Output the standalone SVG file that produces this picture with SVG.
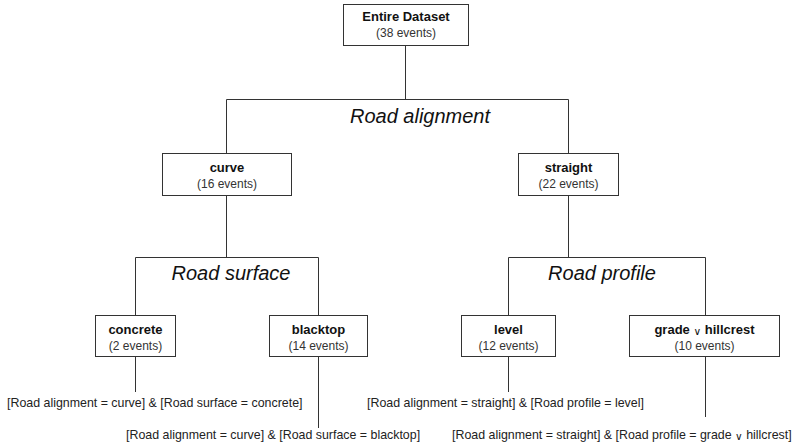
<svg xmlns="http://www.w3.org/2000/svg" width="792" height="445" viewBox="0 0 792 445">
  <style>
    .box { fill: #ffffff; stroke: #333333; stroke-width: 1; }
    .edge { fill: none; stroke: #333333; stroke-width: 1; }
    .title { font-family: "Liberation Sans", Arial, sans-serif; font-size: 13px; font-weight: bold; fill: #111111; text-anchor: middle; }
    .count { font-family: "Liberation Sans", Arial, sans-serif; font-size: 12px; fill: #333333; text-anchor: middle; }
    .split { font-family: "Liberation Sans", Arial, sans-serif; font-size: 20px; font-style: italic; fill: #111111; text-anchor: middle; }
    .rule { font-family: "Liberation Sans", Arial, sans-serif; font-size: 12.4px; fill: #222222; }
    .or { font-family: "DejaVu Sans", sans-serif; font-size: 10.5px; font-weight: normal; }
  </style>
  <rect width="792" height="445" fill="#ffffff"/>

  <g id="connectors">
    <path class="edge" d="M405.5 45 V99.5 M226.5 99.5 H568.5 M226.5 99.5 V153 M568.5 99.5 V153"/>
    <path class="edge" d="M226.5 196 V257.5 M135.5 257.5 H318.5 M135.5 257.5 V316 M318.5 257.5 V316"/>
    <path class="edge" d="M568.5 196 V257.5 M508.5 257.5 H705.5 M508.5 257.5 V316 M705.5 257.5 V316"/>
    <path class="edge" d="M135.5 357 V392 M318.5 357 V428 M508.5 357 V392 M705.5 357 V417"/>
  </g>

  <g id="split-labels">
    <text class="split" x="420" y="123">Road alignment</text>
    <text class="split" x="231" y="280">Road surface</text>
    <text class="split" x="602" y="280">Road profile</text>
  </g>

  <g id="node-root">
    <rect class="box" x="343.5" y="4.5" width="125" height="41"/>
    <text class="title" x="406" y="21">Entire Dataset</text>
    <text class="count" x="406" y="37">(38 events)</text>
  </g>

  <g id="node-curve">
    <rect class="box" x="162.5" y="153.5" width="129" height="42"/>
    <text class="title" x="227" y="172">curve</text>
    <text class="count" x="227" y="188">(16 events)</text>
  </g>

  <g id="node-straight">
    <rect class="box" x="518.5" y="153.5" width="100" height="42"/>
    <text class="title" x="568.5" y="172">straight</text>
    <text class="count" x="568.5" y="188">(22 events)</text>
  </g>

  <g id="node-concrete">
    <rect class="box" x="95.5" y="315.5" width="80" height="41"/>
    <text class="title" x="135.5" y="334">concrete</text>
    <text class="count" x="135.5" y="350">(2 events)</text>
  </g>

  <g id="node-blacktop">
    <rect class="box" x="269.5" y="315.5" width="98" height="41"/>
    <text class="title" x="318.5" y="334">blacktop</text>
    <text class="count" x="318.5" y="350">(14 events)</text>
  </g>

  <g id="node-level">
    <rect class="box" x="461.5" y="315.5" width="94" height="41"/>
    <text class="title" x="508.5" y="334">level</text>
    <text class="count" x="508.5" y="350">(12 events)</text>
  </g>

  <g id="node-grade-hillcrest">
    <rect class="box" x="629.5" y="315.5" width="150" height="41"/>
    <text class="title" x="704.5" y="334">grade <tspan class="or" dy="1">∨</tspan><tspan dy="-1"> hillcrest</tspan></text>
    <text class="count" x="704.5" y="350">(10 events)</text>
  </g>

  <g id="rules">
    <text class="rule" x="7" y="407">[Road alignment = curve] &amp; [Road surface = concrete]</text>
    <text class="rule" x="126" y="439">[Road alignment = curve] &amp; [Road surface = blacktop]</text>
    <text class="rule" x="367" y="407">[Road alignment = straight] &amp; [Road profile = level]</text>
    <text class="rule" x="452" y="439">[Road alignment = straight] &amp; [Road profile = grade <tspan class="or" dy="1">∨</tspan><tspan dy="-1"> hillcrest]</tspan></text>
  </g>
</svg>
